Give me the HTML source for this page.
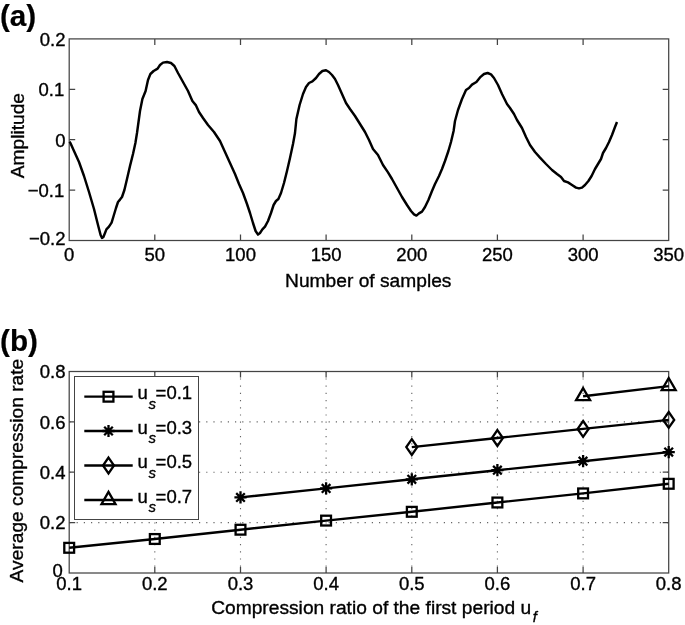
<!DOCTYPE html>
<html><head><meta charset="utf-8"><title>Figure</title>
<style>
html,body{margin:0;padding:0;background:#fff}
svg{display:block}
text{font-family:"Liberation Sans",Arial,Helvetica,sans-serif;fill:#000;stroke:#000;stroke-width:0.35px}
.t{font-size:18.5px}
.l{font-size:19.2px}
.h{font-size:29.7px;font-weight:bold;fill:#000;stroke-width:0.2px}
.ax{stroke:#444;stroke-width:1.25;fill:none}
.g{stroke:#666;stroke-width:1.1;fill:none;stroke-dasharray:1.2 6}
.d{stroke:#000;stroke-width:2.4;fill:none}
.m{stroke:#000;stroke-width:2.3;fill:none;stroke-linejoin:miter}
.c{stroke:#000;stroke-width:2.45;fill:none;stroke-linejoin:round;stroke-linecap:butt}
</style></head><body>
<svg width="685" height="625" viewBox="0 0 685 625">
<rect width="685" height="625" fill="#fff"/>
<text class="h" x="-0.1" y="25.6">(a)</text>
<rect class="ax" x="69.2" y="38.9" width="599.5" height="201.6"/>
<text class="t" x="69.2" y="260.5" text-anchor="middle">0</text>
<path class="ax" d="M154.8 240.5v-6M154.8 38.9v6"/>
<text class="t" x="154.8" y="260.5" text-anchor="middle">50</text>
<path class="ax" d="M240.5 240.5v-6M240.5 38.9v6"/>
<text class="t" x="240.5" y="260.5" text-anchor="middle">100</text>
<path class="ax" d="M326.1 240.5v-6M326.1 38.9v6"/>
<text class="t" x="326.1" y="260.5" text-anchor="middle">150</text>
<path class="ax" d="M411.8 240.5v-6M411.8 38.9v6"/>
<text class="t" x="411.8" y="260.5" text-anchor="middle">200</text>
<path class="ax" d="M497.4 240.5v-6M497.4 38.9v6"/>
<text class="t" x="497.4" y="260.5" text-anchor="middle">250</text>
<path class="ax" d="M583.1 240.5v-6M583.1 38.9v6"/>
<text class="t" x="583.1" y="260.5" text-anchor="middle">300</text>
<text class="t" x="668.7" y="260.5" text-anchor="middle">350</text>
<text class="t" x="65.5" y="45.6" text-anchor="end">0.2</text>
<path class="ax" d="M69.2 89.3h6M668.7 89.3h-6"/>
<text class="t" x="64.3" y="96.0" text-anchor="end">0.1</text>
<path class="ax" d="M69.2 139.7h6M668.7 139.7h-6"/>
<text class="t" x="65.5" y="147.1" text-anchor="end">0</text>
<path class="ax" d="M69.2 190.1h6M668.7 190.1h-6"/>
<text class="t" x="64.3" y="196.8" text-anchor="end">−0.1</text>
<text class="t" x="65.5" y="244.8" text-anchor="end">−0.2</text>
<text class="l" x="285.1" y="287.1">Number of samples</text>
<text class="l" transform="translate(24.1,178.3) rotate(-90)">Amplitude</text>
<polyline class="c" points="69.6,141.6 70.4,143.0 74.0,151.0 79.0,162.0 84.0,176.0 89.0,192.0 94.0,209.0 98.0,225.0 100.6,235.0 102.0,238.0 103.4,237.0 105.0,233.0 106.4,229.4 109.0,226.6 111.6,222.6 113.6,216.0 116.0,208.0 118.0,202.0 120.0,199.6 122.0,197.0 124.4,190.0 127.0,179.0 130.0,166.0 133.0,154.0 135.4,143.0 137.0,133.0 140.0,111.0 142.4,99.0 145.6,91.0 148.0,80.0 150.4,74.0 153.6,71.0 157.6,68.6 160.0,65.0 163.0,62.6 167.0,62.0 171.0,63.0 174.4,66.0 178.0,73.0 183.0,82.0 188.0,91.0 192.4,101.0 196.0,105.4 199.0,112.0 203.0,118.0 208.0,125.0 214.0,132.0 220.0,141.0 225.0,152.0 230.0,163.0 235.0,174.0 239.0,184.0 243.0,193.0 247.0,204.0 250.0,213.0 253.0,223.0 255.6,231.0 258.0,234.6 260.0,233.0 262.4,229.4 265.0,226.6 268.0,221.0 271.0,213.0 273.6,205.0 276.0,201.0 278.4,199.0 281.0,193.0 284.0,183.0 287.0,171.0 290.0,158.0 293.0,144.0 295.0,133.0 296.4,119.0 299.6,105.0 303.0,94.0 306.0,87.0 309.0,83.0 312.4,81.4 316.0,78.0 319.0,74.0 322.4,71.0 326.0,70.2 329.0,72.0 332.0,75.0 335.0,79.0 338.0,85.0 342.0,94.0 346.0,103.0 350.0,109.0 355.0,116.0 360.0,124.0 365.0,132.0 369.0,140.0 373.0,149.0 378.0,155.0 383.0,165.0 388.0,172.4 392.0,179.0 397.0,188.0 402.0,197.0 407.0,205.0 411.0,211.0 414.0,214.4 416.4,215.6 419.0,213.4 422.0,211.6 425.0,207.0 428.4,200.0 432.0,191.0 435.0,184.0 439.0,176.0 442.0,169.0 445.0,161.0 448.4,151.0 451.0,142.0 453.6,131.0 455.0,121.0 458.0,110.0 462.0,99.0 466.0,90.0 469.0,88.0 472.0,84.6 476.4,82.0 480.0,77.4 484.0,74.0 487.6,73.0 491.0,74.4 494.0,78.0 498.0,85.0 502.0,94.0 507.0,104.0 510.0,108.0 514.0,114.0 517.0,120.0 522.0,128.0 526.0,137.0 530.0,145.0 535.0,152.0 540.0,157.6 546.0,164.0 552.0,170.0 557.0,174.0 561.0,177.0 564.0,181.0 568.0,182.4 572.0,185.0 576.0,187.6 579.0,188.4 582.0,187.6 585.0,185.0 588.4,181.0 591.6,176.0 595.0,169.0 598.0,164.0 601.0,159.0 603.0,153.0 606.0,148.0 609.0,142.0 612.0,135.0 615.0,127.0 617.0,122.0"/>
<text class="h" x="0.1" y="350.6">(b)</text>
<path class="g" d="M154.8 371.2V573"/>
<path class="g" d="M240.5 371.2V573"/>
<path class="g" d="M326.1 371.2V573"/>
<path class="g" d="M411.8 371.2V573"/>
<path class="g" d="M497.4 371.2V573"/>
<path class="g" d="M583.1 371.2V573"/>
<path class="g" d="M69.4 522.6H668.7"/>
<path class="g" d="M69.4 472.2H668.7"/>
<path class="g" d="M69.4 421.9H668.7"/>
<rect class="ax" x="69.2" y="371.5" width="599.5" height="201.5"/>
<text class="t" x="69.2" y="590.2" text-anchor="middle">0.1</text>
<path class="ax" d="M154.8 573v-6M154.8 371.5v6"/>
<text class="t" x="154.8" y="590.2" text-anchor="middle">0.2</text>
<path class="ax" d="M240.5 573v-6M240.5 371.5v6"/>
<text class="t" x="240.5" y="590.2" text-anchor="middle">0.3</text>
<path class="ax" d="M326.1 573v-6M326.1 371.5v6"/>
<text class="t" x="326.1" y="590.2" text-anchor="middle">0.4</text>
<path class="ax" d="M411.8 573v-6M411.8 371.5v6"/>
<text class="t" x="411.8" y="590.2" text-anchor="middle">0.5</text>
<path class="ax" d="M497.4 573v-6M497.4 371.5v6"/>
<text class="t" x="497.4" y="590.2" text-anchor="middle">0.6</text>
<path class="ax" d="M583.1 573v-6M583.1 371.5v6"/>
<text class="t" x="583.1" y="590.2" text-anchor="middle">0.7</text>
<text class="t" x="668.7" y="590.2" text-anchor="middle">0.8</text>
<text class="t" x="62.9" y="577.0" text-anchor="end">0</text>
<path class="ax" d="M69.2 522.6h6M668.7 522.6h-6"/>
<text class="t" x="65.5" y="529.2" text-anchor="end">0.2</text>
<path class="ax" d="M69.2 472.2h6M668.7 472.2h-6"/>
<text class="t" x="65.5" y="478.9" text-anchor="end">0.4</text>
<path class="ax" d="M69.2 421.9h6M668.7 421.9h-6"/>
<text class="t" x="65.5" y="428.5" text-anchor="end">0.6</text>
<text class="t" x="65.5" y="378.1" text-anchor="end">0.8</text>
<text class="l" x="211.2" y="614.2">Compression ratio of the first period u<tspan font-size="14.8" font-style="italic" dx="1.6" dy="7.8">f</tspan></text>
<text class="l" transform="translate(23.3,582.4) rotate(-90)">Average compression rate</text>
<polyline class="d" points="69.2,547.8 154.8,539.0 240.5,529.7 326.1,520.6 411.8,511.8 497.4,502.5 583.1,493.4 668.7,483.8"/>
<rect class="m" x="64.3" y="542.9" width="9.8" height="9.8"/>
<rect class="m" x="149.9" y="534.1" width="9.8" height="9.8"/>
<rect class="m" x="235.6" y="524.8" width="9.8" height="9.8"/>
<rect class="m" x="321.2" y="515.7" width="9.8" height="9.8"/>
<rect class="m" x="406.9" y="506.9" width="9.8" height="9.8"/>
<rect class="m" x="492.5" y="497.6" width="9.8" height="9.8"/>
<rect class="m" x="578.2" y="488.5" width="9.8" height="9.8"/>
<rect class="m" x="663.8" y="478.9" width="9.8" height="9.8"/>
<polyline class="d" points="240.5,497.4 326.1,488.4 411.8,479.3 497.4,470.2 583.1,461.2 668.7,452.1"/>
<path class="m" stroke-width="2.1" d="M234.4 497.4h12.2M240.5 491.3v12.2M236.2 493.1l8.6 8.6M236.2 501.8l8.6 -8.6"/>
<path class="m" stroke-width="2.1" d="M320.0 488.4h12.2M326.1 482.3v12.2M321.8 484.1l8.6 8.6M321.8 492.7l8.6 -8.6"/>
<path class="m" stroke-width="2.1" d="M405.7 479.3h12.2M411.8 473.2v12.2M407.5 475.0l8.6 8.6M407.5 483.6l8.6 -8.6"/>
<path class="m" stroke-width="2.1" d="M491.3 470.2h12.2M497.4 464.1v12.2M493.1 465.9l8.6 8.6M493.1 474.5l8.6 -8.6"/>
<path class="m" stroke-width="2.1" d="M577.0 461.2h12.2M583.1 455.1v12.2M578.7 456.9l8.6 8.6M578.7 465.5l8.6 -8.6"/>
<path class="m" stroke-width="2.1" d="M662.6 452.1h12.2M668.7 446.0v12.2M664.4 447.8l8.6 8.6M664.4 456.4l8.6 -8.6"/>
<polyline class="d" points="411.8,447.1 497.4,438.0 583.1,428.9 668.7,419.9"/>
<path class="m" d="M411.8 439.2L417.3 447.1L411.8 455.0L406.3 447.1Z"/>
<path class="m" d="M497.4 430.1L502.9 438.0L497.4 445.9L491.9 438.0Z"/>
<path class="m" d="M583.1 421.0L588.6 428.9L583.1 436.8L577.6 428.9Z"/>
<path class="m" d="M668.7 412.0L674.2 419.9L668.7 427.8L663.2 419.9Z"/>
<polyline class="d" points="583.1,396.2 668.7,386.1"/>
<path class="m" d="M583.1 388.1L590.1 400.2H576.1Z"/>
<path class="m" d="M668.7 378.0L675.7 390.2H661.7Z"/>
<rect x="74.4" y="376.7" width="124.2" height="143.2" fill="#fff" stroke="#444" stroke-width="1" shape-rendering="crispEdges"/>
<path class="d" d="M84.3 396.65H132.7"/>
<rect class="m" x="103.6" y="391.8" width="9.8" height="9.8"/>
<text class="t" x="137.4" y="399.35">u<tspan font-size="15" font-style="italic" dx="0.9" dy="9.4">s</tspan><tspan dy="-9.4" dx="-0.5">=0.1</tspan></text>
<path class="d" d="M84.3 431.0H132.7"/>
<path class="m" stroke-width="2.1" d="M102.4 431.0h12.2M108.5 424.9v12.2M104.2 426.7l8.6 8.6M104.2 435.3l8.6 -8.6"/>
<text class="t" x="137.4" y="433.70">u<tspan font-size="15" font-style="italic" dx="0.9" dy="9.4">s</tspan><tspan dy="-9.4" dx="-0.5">=0.3</tspan></text>
<path class="d" d="M84.3 465.5H132.7"/>
<path class="m" d="M108.5 457.6L114.0 465.5L108.5 473.4L103.0 465.5Z"/>
<text class="t" x="137.4" y="468.20">u<tspan font-size="15" font-style="italic" dx="0.9" dy="9.4">s</tspan><tspan dy="-9.4" dx="-0.5">=0.5</tspan></text>
<path class="d" d="M84.3 500.0H132.7"/>
<path class="m" d="M108.5 491.9L115.5 504.1H101.5Z"/>
<text class="t" x="137.4" y="502.70">u<tspan font-size="15" font-style="italic" dx="0.9" dy="9.4">s</tspan><tspan dy="-9.4" dx="-0.5">=0.7</tspan></text>
</svg></body></html>
